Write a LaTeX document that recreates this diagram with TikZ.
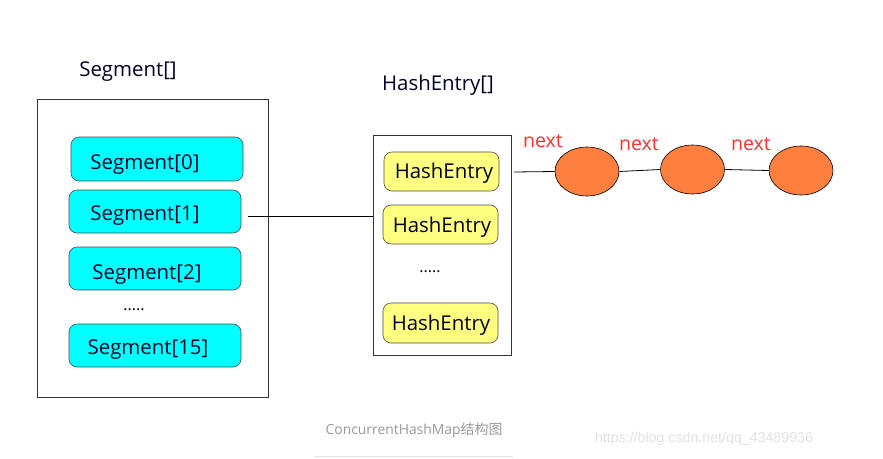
\documentclass[tikz,border=0pt]{standalone}
\usepackage{fontspec}
\usetikzlibrary{shapes.geometric}
\setmainfont{Open Sans}
\newfontfamily\cjkfont{Noto Sans CJK SC}
\newfontfamily\wmfont{Liberation Sans}
\definecolor{segcyan}{HTML}{00FFFF}
\definecolor{heyellow}{HTML}{FFFF80}
\definecolor{nodeorange}{HTML}{FF7F3F}
\definecolor{nextred}{HTML}{FF3030}
\definecolor{captiongray}{HTML}{999999}
\definecolor{wmgray}{HTML}{E2E2E2}
\begin{document}
\begin{tikzpicture}[x=1pt,y=-1pt,
  outerbox/.style={draw=black!80, line width=0.8pt},
  segbox/.style={draw=black!70, line width=0.6pt, fill=segcyan, rounded corners=8pt},
  hebox/.style={draw=black!70, line width=0.6pt, fill=heyellow, rounded corners=8pt},
  listnode/.style={draw=black, line width=0.6pt, fill=nodeorange, ellipse, minimum width=64pt, minimum height=49pt, inner sep=0pt},
  boxtext/.style={font=\fontsize{20.4}{24}\selectfont, text=black!85!blue, anchor=base, inner sep=0pt},
  dotstext/.style={font=\fontsize{16}{18}\selectfont, anchor=base, inner sep=0pt},
  nextlbl/.style={font=\fontsize{19.5}{22}\selectfont, text=nextred, anchor=base, inner sep=0pt},
  conn/.style={draw=black, line width=0.8pt}]
\useasboundingbox (0,0) rectangle (883,458);
\fill[white] (0,0) rectangle (883,458);

% Segment array
\node[boxtext] (segtitle) at (128,76) {Segment[]};
\path[outerbox] (37,99) rectangle (268,397);
\draw[segbox] (71,137) rectangle (243,181);
\node[boxtext] (s0) at (145,169) {Segment[0]};
\draw[segbox] (69,190) rectangle (241,233);
\node[boxtext] (s1) at (145,220) {Segment[1]};
\draw[segbox] (69,247) rectangle (241,290);
\node[boxtext] (s2) at (147,279) {Segment[2]};
\node[dotstext] (sdots) at (134,310) {.....};
\draw[segbox] (69,324) rectangle (241,367);
\node[boxtext] (s15) at (148,354) {Segment[15]};

% HashEntry array
\node[boxtext] (hetitle) at (438,90) {HashEntry[]};
\path[outerbox] (373,135) rectangle (511,355);
\draw[hebox] (384,152) rectangle (499,191);
\node[boxtext] (h1) at (444,178) {HashEntry};
\draw[hebox] (383,205) rectangle (498,244);
\node[boxtext] (h2) at (442,232) {HashEntry};
\node[dotstext] (hdots) at (430,272) {.....};
\draw[hebox] (383,303) rectangle (498,343);
\node[boxtext] (h3) at (441,330) {HashEntry};

\coordinate (segout) at (248,216);
\coordinate (hein) at (373,216);
\draw[conn] (segout) -- (hein);

% linked list
\node[listnode] (e1) at (587,171.5) {};
\node[listnode] (e2) at (692.5,169.5) {};
\node[listnode] (e3) at (801,170.5) {};
\coordinate (heout) at (514,172);
\draw[conn] (heout) -- (e1.west);
\draw[conn] (e1.east) -- (e2.west);
\draw[conn] (e2.east) -- (e3.west);
\node[nextlbl] (n1) at (543,147) {next};
\node[nextlbl] (n2) at (639,150) {next};
\node[nextlbl] (n3) at (751,150) {next};

% caption
\node[font=\fontsize{13.9}{16}\selectfont, text=captiongray, anchor=base, inner sep=0pt] (cap) at (414,434) {ConcurrentHashMap{\cjkfont 结构图}};
\coordinate (ul1) at (314,456);
\coordinate (ul2) at (513,456);
\draw[wmgray, line width=1pt] (ul1) -- (ul2);
\node[font=\wmfont\fontsize{14.2}{16}\selectfont, text=wmgray, anchor=base, inner sep=0pt] (wm) at (704,442) {https://blog.csdn.net/qq\_43489936};
\end{tikzpicture}
\end{document}
